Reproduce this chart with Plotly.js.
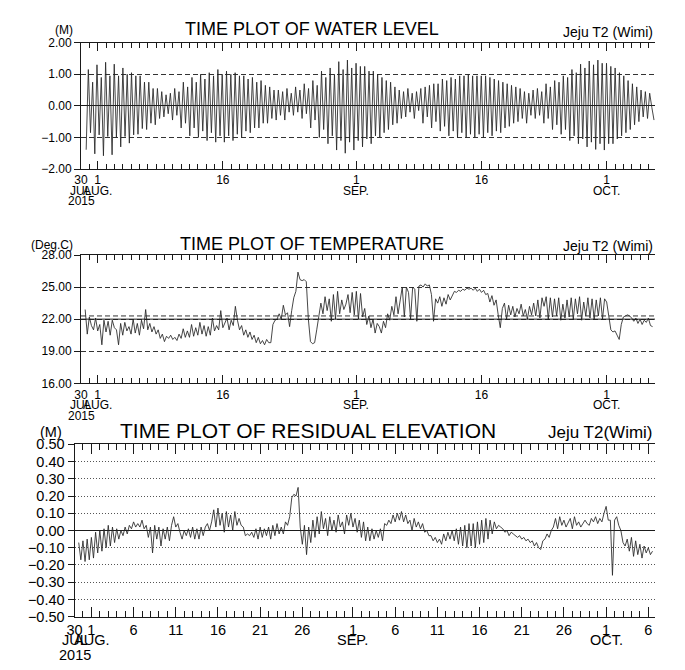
<!DOCTYPE html>
<html><head><meta charset="utf-8">
<script src="https://cdn.plot.ly/plotly-3.0.1.min.js"></script>
<style>html,body{margin:0;padding:0;background:#fff;}#chart{width:685px;height:670px;}</style>
</head><body><div id="chart"></div>
<script>
// ================= DATA =================
// Water level (m): tidal extremes, one row per tidal day: lowA, highA, lowB, highB
const wlStart = '2015-07-30 14:53';
const wlStepHours = 6.21;
const wlLowA  = [-1.39,-1.52,-1.58,-1.55,-1.30,-1.18,-0.90,-0.75,-0.60,-0.35,-0.45,-0.70,-0.95,-1.00,-1.10,-1.15,-1.15,-1.10,-1.00,-0.85,-0.70,-0.55,-0.45,-0.45,-0.30,-0.40,-0.70,-1.00,-1.20,-1.40,-1.50,-1.40,-1.30,-1.20,-1.00,-0.75,-0.55,-0.35,-0.40,-0.55,-0.70,-0.80,-0.95,-1.00,-1.00,-1.00,-1.00,-0.95,-0.85,-0.65,-0.50,-0.55,-0.40,-0.55,-0.75,-0.90,-1.10,-1.20,-1.30,-1.38,-1.40,-1.20,-0.95,-0.75,-0.50,-0.40];
const wlHighA = [1.15,1.30,1.38,1.32,1.20,1.05,0.95,0.75,0.55,0.35,0.55,0.75,0.90,1.00,1.05,1.15,1.10,1.05,0.95,0.90,0.80,0.60,0.50,0.55,0.60,0.70,0.80,1.10,1.20,1.40,1.45,1.35,1.25,1.10,0.90,0.75,0.50,0.55,0.45,0.60,0.70,0.85,0.90,0.95,1.00,0.95,0.95,0.85,0.75,0.65,0.55,0.40,0.55,0.70,0.80,0.95,1.15,1.32,1.42,1.45,1.35,1.20,0.95,0.70,0.50,0.40];
const wlLowB  = [-0.85,-0.92,-0.97,-1.00,-0.97,-0.92,-0.72,-0.55,-0.40,-0.25,-0.30,-0.55,-0.70,-0.80,-0.85,-0.95,-0.95,-0.90,-0.80,-0.70,-0.55,-0.40,-0.30,-0.20,-0.20,-0.25,-0.45,-0.75,-0.95,-1.10,-1.15,-1.10,-1.05,-0.95,-0.85,-0.60,-0.40,-0.20,-0.15,-0.35,-0.50,-0.65,-0.80,-0.85,-0.90,-0.90,-0.85,-0.80,-0.70,-0.55,-0.40,-0.30,-0.30,-0.40,-0.60,-0.75,-0.95,-1.05,-1.15,-1.20,-1.20,-1.05,-0.85,-0.60,-0.35,-0.05];
const wlHighB = [0.75,0.90,0.95,0.95,1.00,0.95,0.75,0.55,0.45,0.40,0.45,0.60,0.75,0.85,0.95,1.00,1.00,0.95,0.85,0.75,0.65,0.50,0.45,0.40,0.50,0.55,0.65,0.90,1.00,1.15,1.20,1.25,1.10,1.00,0.80,0.60,0.45,0.40,0.55,0.65,0.70,0.80,0.85,0.95,0.95,0.95,0.90,0.80,0.70,0.60,0.45,0.50,0.45,0.60,0.75,0.90,1.05,1.20,1.30,1.35,1.25,1.05,0.80,0.60,0.45,-0.45];

// Temperature (deg C), 6-hourly
const tempStart = '2015-07-30 12:00';
const tempStepHours = 6;
const tempValues = [
22.9,20.6,22.2,21.4, 21.0,22.1,20.9,21.5, 19.6,21.9,20.8,21.8, 20.5,21.9,21.2,21.0,
19.6,21.6,20.5,21.7, 20.9,21.3,20.6,22.0, 20.7,21.6,20.5,21.9, 21.1,22.9,21.0,21.6,
20.8,21.3,20.6,21.0, 20.2,20.6,19.9,20.4, 20.2,20.5,20.1,20.3, 20.0,20.6,20.2,21.1,
20.3,20.9,20.3,21.5, 20.4,21.2,20.5,21.7, 20.6,21.4,20.4,21.3, 20.5,22.1,20.9,21.4,
21.0,22.8,21.2,21.6, 22.1,21.0,21.9,21.4, 23.2,21.9,21.0,21.4, 20.5,21.0,20.3,20.8,
20.1,20.5,19.8,20.3, 19.7,20.0,19.6,20.1, 19.8,19.8,21.5,21.9, 22.0,22.5,22.0,23.3,
22.4,22.6,21.3,22.8, 24.0,24.6,26.4,25.7, 25.6,25.7,25.5,22.0, 19.9,19.7,19.8,21.0,
22.3,23.5,22.5,24.1, 22.8,23.9,21.8,24.3, 22.0,24.6,22.5,23.8, 22.9,23.4,24.3,22.6,
24.5,22.4,24.6,22.0, 24.4,22.2,23.0,21.5, 22.3,21.2,22.0,20.7, 21.6,21.3,20.7,21.8,
21.2,22.5,21.9,23.2, 22.4,24.1,22.5,23.6, 25.0,22.2,25.0,24.5, 22.0,25.0,24.8,21.8,
25.1,25.2,25.0,25.3, 25.1,25.2,24.3,21.8, 23.9,23.5,24.1,23.2, 24.0,23.4,24.3,23.8,
24.2,24.6,24.5,24.7, 24.6,24.8,24.7,24.9, 24.8,24.9,24.7,24.9, 24.6,24.8,24.5,24.7,
24.3,24.4,23.6,24.2, 23.3,23.8,22.4,21.2, 23.0,23.5,22.0,23.3, 22.4,23.2,22.2,23.0,
22.5,23.4,22.3,22.9, 22.0,23.2,22.4,23.5, 22.3,23.8,22.1,24.0, 23.2,24.1,22.0,24.0,
22.2,23.9,22.3,24.0, 21.9,23.4,22.1,23.8, 22.2,24.0,22.0,23.9, 22.5,24.1,21.9,23.6,
22.3,24.0,22.1,23.9, 22.0,23.8,22.3,24.0, 22.0,23.9,23.6,22.5, 21.0,20.8,20.9,20.5,
20.1,21.5,22.2,22.3, 22.4,22.3,22.1,21.8, 22.1,21.6,22.0,21.5, 21.9,21.7,22.1,21.4,
21.3];

// Residual elevation (m), 6-hourly
const resStart = '2015-07-30 12:00';
const resStepHours = 6;
const resValues = [
-0.07,-0.17,-0.06,-0.18, -0.05,-0.17,-0.04,-0.16, -0.01,-0.13,0.00,-0.12, 0.01,-0.10,0.03,-0.09,
0.02,-0.07,0.01,-0.05, 0.00,-0.03,0.02,-0.02, 0.03,0.01,0.05,0.02, 0.04,0.02,0.06,0.01,
0.03,-0.04,0.02,-0.13, 0.03,-0.05,0.02,-0.09, 0.01,-0.05,0.02,-0.06, 0.03,0.08,0.02,0.04,
-0.01,-0.05,0.00,-0.03, 0.01,-0.04,0.02,-0.05, 0.01,-0.05,0.02,-0.03, 0.02,0.04,0.00,0.05,
0.12,0.02,0.13,0.03, 0.10,-0.01,0.11,0.02, 0.09,0.00,0.11,0.03, 0.07,0.03,0.02,-0.03,
-0.02,-0.03,-0.01,-0.04, 0.01,-0.05,0.02,-0.04, 0.01,-0.03,0.02,-0.05, 0.03,-0.03,0.04,-0.02,
0.02,-0.02,0.05,0.03, 0.08,0.19,0.21,0.20, 0.25,0.02,-0.08,0.03, -0.14,0.02,-0.07,0.06,
-0.04,0.08,-0.02,0.11, 0.01,0.07,-0.03,0.08, 0.00,0.06,-0.01,0.09, 0.02,0.05,-0.02,0.09,
0.03,0.10,0.02,0.07, -0.01,0.06,-0.04,0.05, -0.06,0.02,-0.06,0.01, -0.05,0.00,-0.04,0.01,
-0.06,0.04,0.03,0.06, 0.04,0.09,0.05,0.10, 0.06,0.11,0.05,0.09, 0.04,0.06,0.00,0.07,
0.02,0.05,0.01,0.04, -0.01,0.00,-0.03,-0.03, -0.06,-0.04,-0.07,-0.05, -0.08,-0.02,-0.06,-0.01,
-0.05,0.00,-0.06,0.01, -0.08,0.02,-0.09,0.03, -0.10,0.04,-0.09,0.04, -0.10,0.05,-0.08,0.06,
-0.07,0.07,-0.05,0.06, -0.02,0.05,0.01,0.03, 0.02,0.01,-0.01,0.00, -0.03,-0.01,-0.02,-0.03,
-0.04,-0.03,-0.05,-0.04, -0.06,-0.05,-0.07,-0.06, -0.09,-0.07,-0.10,-0.11, -0.06,-0.05,-0.02,-0.04,
0.00,0.02,0.07,0.01, 0.08,0.03,0.06,0.02, 0.05,0.07,0.01,0.08, 0.03,0.05,0.02,0.04,
0.06,0.04,0.03,0.07, 0.05,0.08,0.04,0.07, 0.05,0.10,0.14,0.06, 0.06,-0.26,0.06,0.08,
0.03,0.00,-0.07,-0.09, -0.05,-0.12,-0.04,-0.15, -0.06,-0.14,-0.08,-0.16, -0.09,-0.13,-0.10,-0.14,
-0.12];

// Axis ticks and labels
const xRange = ['2015-07-30 00:00', '2015-10-06 19:00'];
const topTickDates = ['2015-07-30','2015-08-01','2015-08-16','2015-09-01','2015-09-16','2015-10-01'];
const topTickText  = ['30','1','16','1','16','1'];
const botTickDates = ['2015-07-30','2015-08-01','2015-08-06','2015-08-11','2015-08-16','2015-08-21','2015-08-26','2015-09-01','2015-09-06','2015-09-11','2015-09-16','2015-09-21','2015-09-26','2015-10-01','2015-10-06'];
const botTickText  = ['30','1','6','11','16','21','26','1','6','11','16','21','26','1','6'];
const monthLabelDates = ['2015-07-30','2015-08-01','2015-09-01','2015-10-01'];
const monthLabelText  = ['JUL','AUG.','SEP.','OCT.'];
const yearLabelDates = ['2015-07-30'];
const yearLabelText  = ['2015'];
const wlTicks   = [-2, -1, 0, 1, 2];
const tempTicks = [16, 19, 22, 25, 28];
const resTicks  = [-0.5,-0.4,-0.3,-0.2,-0.1,0,0.1,0.2,0.3,0.4,0.5];
const tempSolidRef = [22.0];
const tempMeanRef  = [22.3];

// ================= BUILD =================
function parseLocal(s){const [d,t]=s.split(' ');const [Y,M,D]=d.split('-').map(Number);const [h,m]=(t||'00:00').split(':').map(Number);return Date.UTC(Y,M-1,D,h,m);}
function series(start, stepH, n){const t0=parseLocal(start);const out=[];for(let i=0;i<n;i++)out.push(t0+i*stepH*3600000);return out;}

const wlY=[];
for(let j=0;j<wlLowA.length;j++){wlY.push(wlLowA[j],wlHighA[j],wlLowB[j],wlHighB[j]);}
const wlX=series(wlStart,wlStepHours,wlY.length);
const tempX=series(tempStart,tempStepHours,tempValues.length);
const resX=series(resStart,resStepHours,resValues.length);

const FONT='Liberation Sans, Arial, Helvetica, sans-serif';
const INK='#1a1a1a';
const W=685,H=670;
const px=x=>x/W, py=y=>1-y/H;

const lineStyle={color:'#262626',width:0.85};
const traces=[
 {x:wlX,y:wlY,type:'scatter',mode:'lines',line:lineStyle,xaxis:'x',yaxis:'y',hoverinfo:'skip'},
 {x:tempX,y:tempValues,type:'scatter',mode:'lines',line:lineStyle,xaxis:'x2',yaxis:'y2',hoverinfo:'skip'},
 {x:resX,y:resValues,type:'scatter',mode:'lines',line:lineStyle,xaxis:'x3',yaxis:'y3',hoverinfo:'skip'}
];

function xAxis(domain, anchor, vals, text, fs, majLen, minLen){
 return {domain:domain, anchor:anchor, type:'date', range:xRange, tickmode:'array', tickvals:vals, ticktext:text,
  ticks:'inside', ticklen:majLen, tickwidth:1, tickcolor:INK, showline:true, linecolor:INK, linewidth:1,
  mirror:'allticks', showgrid:false, zeroline:false, tickfont:{family:FONT,size:fs,color:'#000'},
  minor:{tick0:'2015-07-30', dtick:86400000, ticks:'inside', ticklen:minLen, tickwidth:1, tickcolor:INK, showgrid:false},
  fixedrange:true};
}
function yAxis(domain, anchor, range, vals, fs, grid, gridcolor, zl){
 return {domain:domain, anchor:anchor, range:range, tickmode:'array', tickvals:vals, tickformat:'.2f',
  ticks:'outside', ticklen:6, tickwidth:1, tickcolor:INK, showline:true, linecolor:INK, linewidth:1, mirror:false,
  showgrid:true, griddash:grid, gridcolor:gridcolor, gridwidth:1, zeroline:zl, zerolinecolor:INK, zerolinewidth:1,
  tickfont:{family:FONT,size:fs,color:'#000'}, fixedrange:true};
}

const d1=[px(81),px(655)], d3=[px(74.5),px(655)];
const layout={
 width:W,height:H,margin:{l:0,r:0,t:0,b:0},paper_bgcolor:'#fff',plot_bgcolor:'#fff',showlegend:false,
 font:{family:FONT,color:'#000'},
 xaxis: xAxis(d1,'y', topTickDates, topTickText, 12, 8, 5),
 yaxis: yAxis([py(169),py(42.7)],'x',[-2,2],wlTicks,12,'5px,3px','#333',true),
 xaxis2:xAxis(d1,'y2', topTickDates, topTickText, 12, 8, 5),
 yaxis2:yAxis([py(383.3),py(255)],'x2',[16,28],tempTicks,12,'5px,3px','#333',false),
 xaxis3:xAxis(d3,'y3', botTickDates, botTickText, 14.5, 10, 6),
 yaxis3:yAxis([py(616.7),py(444.3)],'x3',[-0.5,0.5],resTicks,14.5,'1px,2px','#555',true),
 shapes:[], annotations:[]
};
tempSolidRef.forEach(v=>layout.shapes.push({type:'line',xref:'x2 domain',yref:'y2',x0:0,x1:1,y0:v,y1:v,line:{color:INK,width:1}}));
tempMeanRef.forEach(v=>layout.shapes.push({type:'line',xref:'x2 domain',yref:'y2',x0:0,x1:1,y0:v,y1:v,line:{color:'#333',width:1,dash:'5px,3px'}}));

function ann(text,x,y,size,xanchor,xref){return {text:text,x:x,y:y,xref:xref||'paper',yref:'paper',xanchor:xanchor||'center',yanchor:'middle',showarrow:false,font:{family:FONT,size:size,color:'#000'}};}
const A=layout.annotations;
// titles
A.push(ann('TIME PLOT OF WATER LEVEL',px(312),py(29.5),18));
A.push(ann('Jeju T2 (Wimi)',px(655),py(32),14,'right'));
A.push(ann('(M)',px(64),py(30),12));
A.push(ann('TIME PLOT OF TEMPERATURE',px(311.5),py(243.5),18));
A.push(ann('Jeju T2 (Wimi)',px(655),py(246),14,'right'));
A.push(ann('(Deg.C)',px(51.5),py(244.5),12));
A.push(ann('TIME PLOT OF RESIDUAL ELEVATION',px(307.5),py(430),21));
A.push(ann('Jeju T2(Wimi)',px(655),py(432),17,'right'));
A.push(ann('(M)',px(51),py(431.5),14.5));
// month / year rows under x tick labels
const rows=[['x',190.5,201,12],['x2',404.5,416,12],['x3',640,655,14.5]];
rows.forEach(([xr,ym,yy,fs])=>{
 monthLabelDates.forEach((d,i)=>A.push(ann(monthLabelText[i],d,py(ym),fs,'center',xr)));
 yearLabelDates.forEach((d,i)=>A.push(ann(yearLabelText[i],d,py(yy),fs,'center',xr)));
});

Plotly.newPlot('chart',traces,layout,{staticPlot:true,displayModeBar:false});
</script></body></html>
